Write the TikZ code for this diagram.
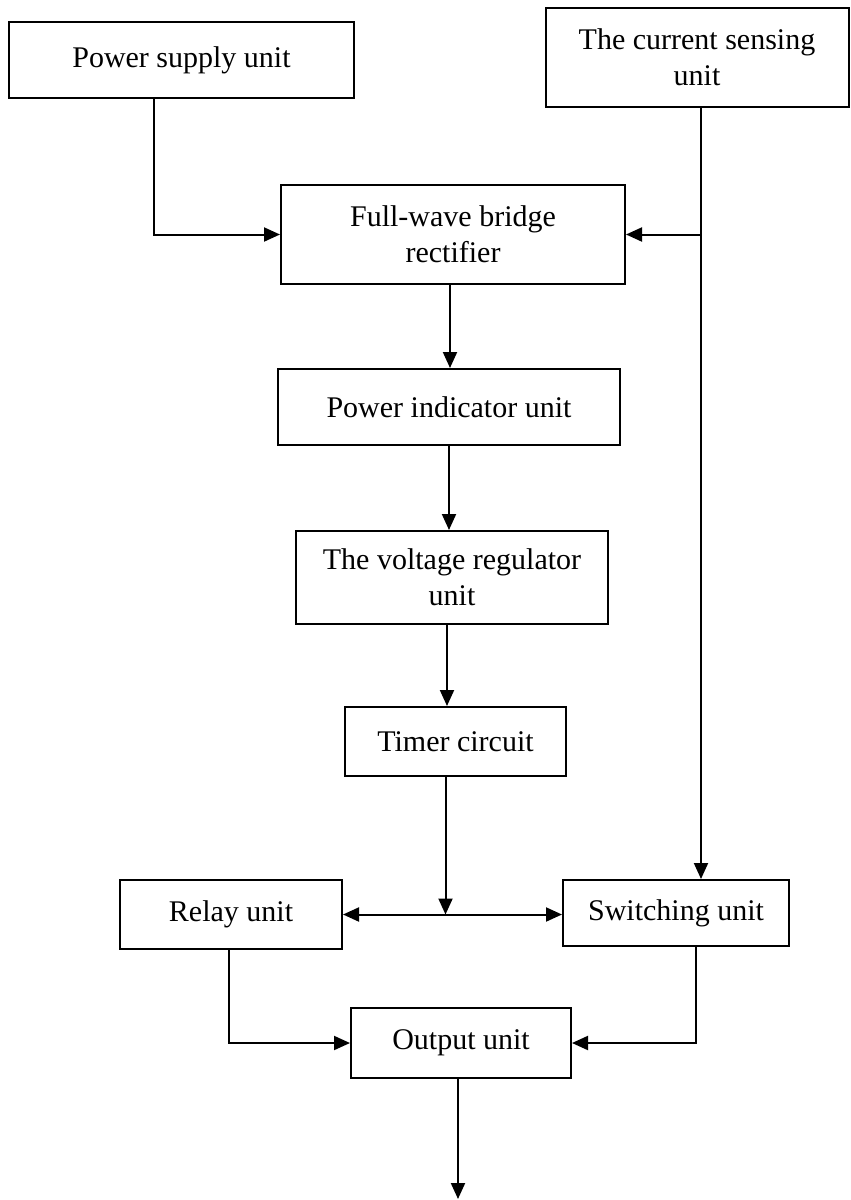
\documentclass[tikz,border=0pt]{standalone}
\usepackage{fontspec}
\setmainfont{Liberation Serif}
\usepackage{tikz}
\usetikzlibrary{arrows.meta,calc}

\begin{document}
\begin{tikzpicture}[
    x=1pt,
    y=-1pt,
    unit/.style={
        draw,
        line width=2pt,
        align=center,
        inner sep=0pt,
        font=\fontsize{30}{36}\selectfont
    },
    arrow/.style={-{Triangle[length=16pt,width=14pt]}, line width=2pt},
    dblarrow/.style={{Triangle[length=16pt,width=14pt]}-{Triangle[length=16pt,width=14pt]}, line width=2pt},
    wire/.style={line width=2pt}
]

\useasboundingbox (0,0) rectangle (851,1200);

% ============================================================
% Inputs
% ============================================================

\node[
    unit,
    minimum width=345pt,
    minimum height=76pt
] (psu) at (181.5,60)
    {Power supply unit};

\node[
    unit,
    minimum width=303pt,
    minimum height=99pt
] (sense) at (697,57.5)
    {The current sensing\\unit};

% ============================================================
% Main chain
% ============================================================

\node[
    unit,
    minimum width=344pt,
    minimum height=99pt
] (rect) at (453,234.5)
    {Full-wave bridge\\rectifier};

\node[
    unit,
    minimum width=342pt,
    minimum height=76pt
] (ind) at (449,407)
    {Power indicator unit};

\node[
    unit,
    minimum width=312pt,
    minimum height=93pt
] (reg) at (452,577.5)
    {The voltage regulator\\unit};

\node[
    unit,
    minimum width=221pt,
    minimum height=69pt
] (timer) at (455.5,741.5)
    {Timer circuit};

% ============================================================
% Relay / switching row and output
% ============================================================

\node[
    unit,
    minimum width=222pt,
    minimum height=69pt
] (relay) at (231,914.5)
    {Relay unit};

\node[
    unit,
    minimum width=226pt,
    minimum height=66pt
] (switch) at (676,913)
    {Switching unit};

\node[
    unit,
    minimum width=220pt,
    minimum height=70pt
] (out) at (461,1043)
    {Output unit};

% ============================================================
% Connectors
% ============================================================

% Supply into rectifier
\draw[arrow] ([xshift=-27.5pt]psu.south) |- (rect.west);

% Current sensing tap
\coordinate (tap) at ([xshift=4pt]sense.south |- rect.east);

\draw[wire] ([xshift=4pt]sense.south) -- (tap);
\draw[arrow] (tap) -- (rect.east);
\draw[arrow] (tap) -- (tap |- switch.north);

% Down the chain
\draw[arrow] ([xshift=-3pt]rect.south) -- ([xshift=-3pt]rect.south |- ind.north);
\draw[arrow] (ind.south) -- (ind.south |- reg.north);
\draw[arrow] ([xshift=-5pt]reg.south) -- ([xshift=-5pt]reg.south |- timer.north);

% Timer split
\coordinate (split) at ([xshift=-10pt]timer.south |- relay.east);

\draw[arrow] ([xshift=-10pt]timer.south) -- (split);
\draw[dblarrow] (relay.east) -- (relay.east -| switch.west);

% Into output
\draw[arrow] ([xshift=-2pt]relay.south) |- (out.west);
\draw[arrow] ([xshift=20pt]switch.south) |- (out.east);

\coordinate (exit) at ([yshift=-120pt]out.south);

\draw[arrow] ([xshift=-3pt]out.south) -- ([xshift=-3pt]exit);

\end{tikzpicture}
\end{document}
